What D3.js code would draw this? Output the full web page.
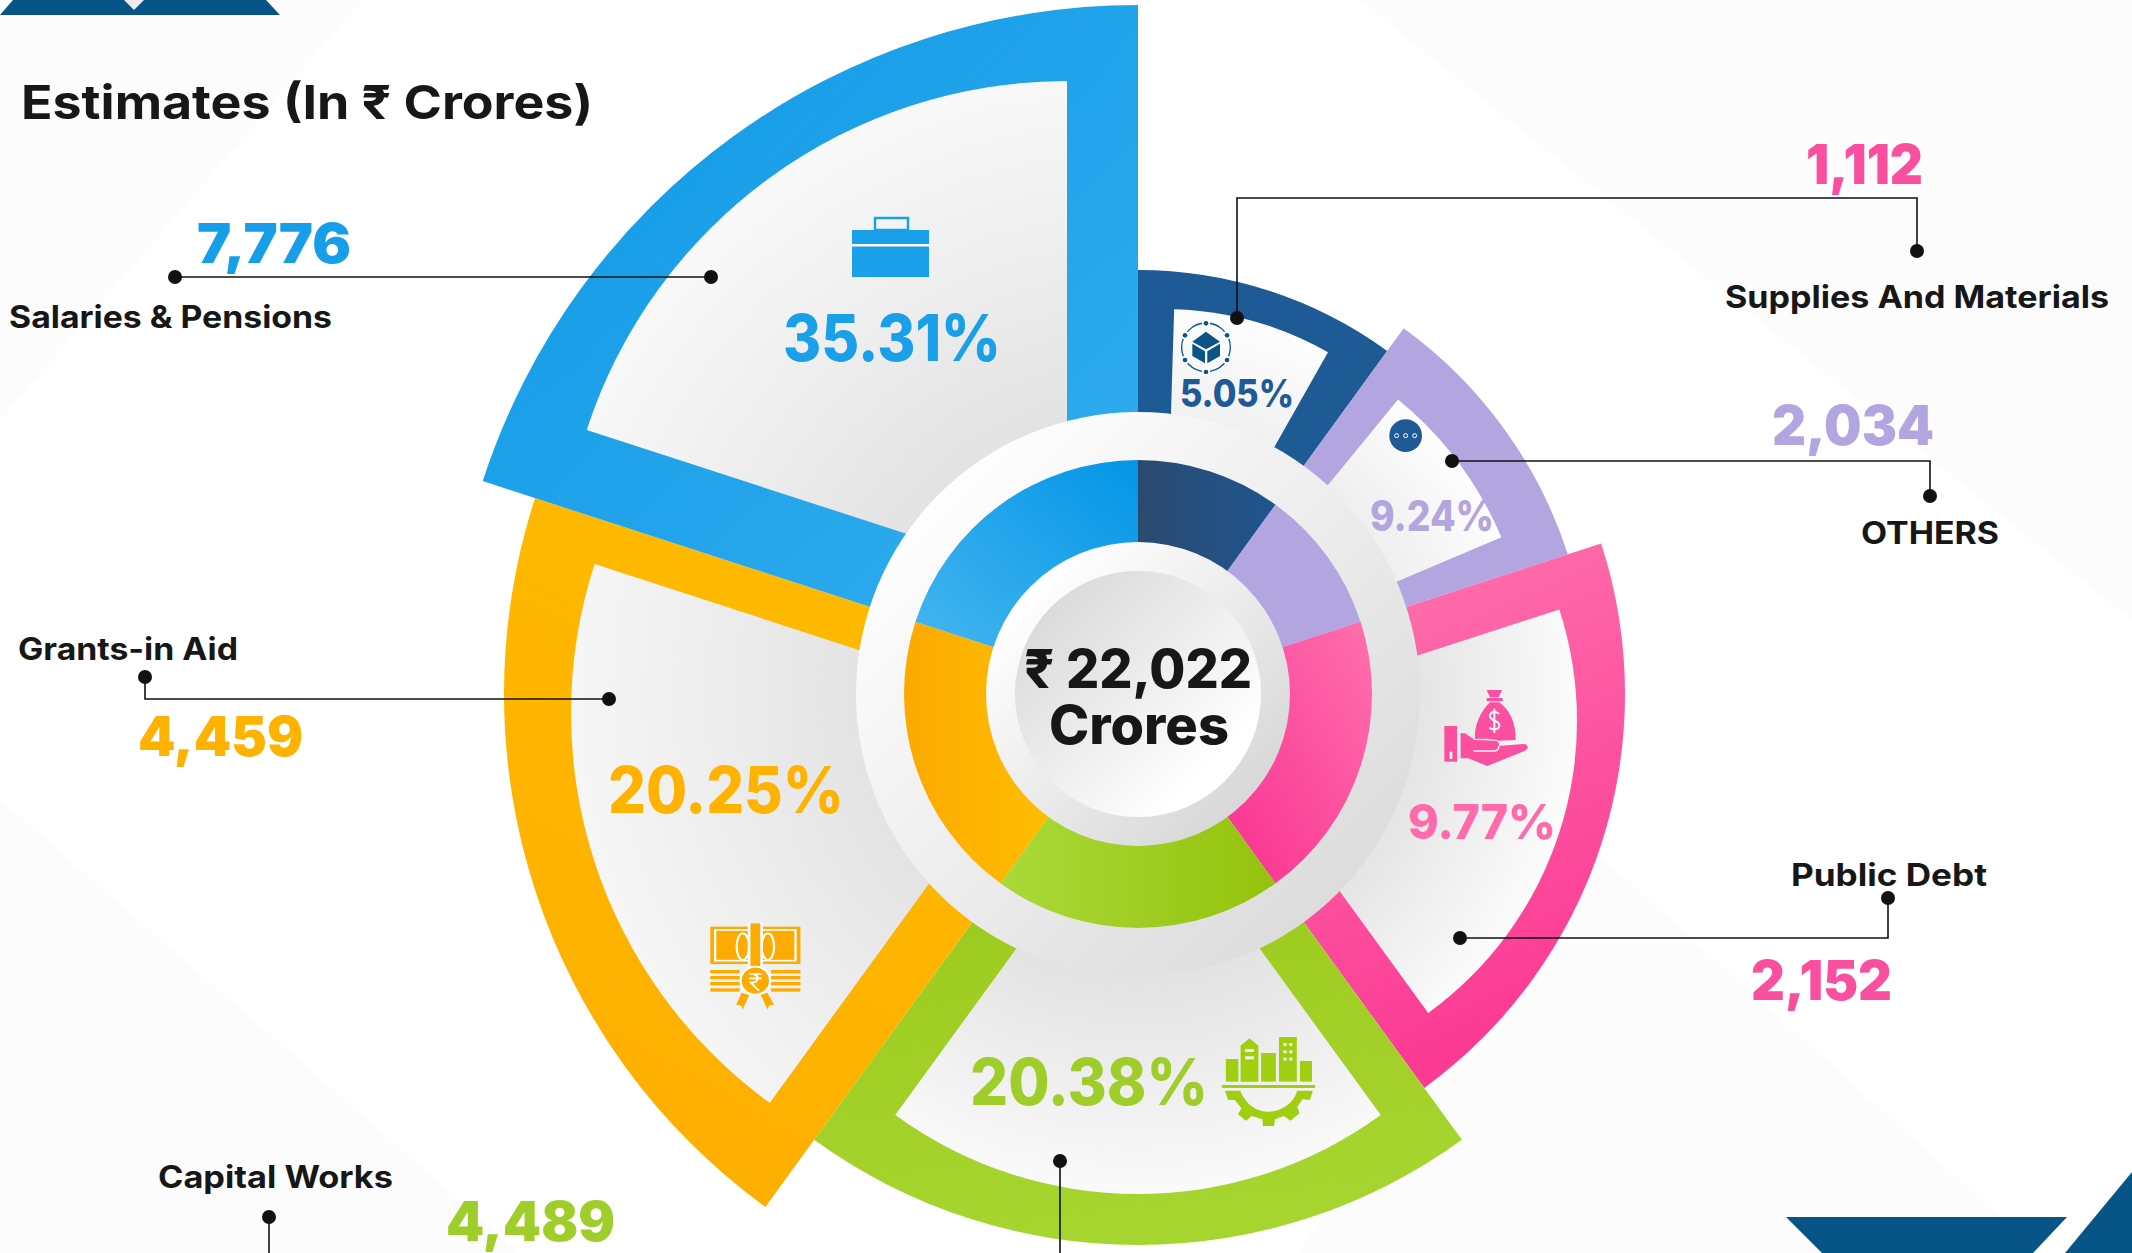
<!DOCTYPE html>
<html>
<head>
<meta charset="utf-8">
<title>Estimates (In ₹ Crores)</title>
<script src="https://cdn.jsdelivr.net/npm/d3@7"></script>
<style>
  html, body { margin: 0; padding: 0; background: #fff; }
  svg { display: block; }
  text { font-family: Inter, "Noto Sans", "DejaVu Sans", sans-serif; }
</style>
</head>
<body>
<div id="main"></div>
<script>
// clockwise from twelve o'clock
const categories = ["Supplies And Materials", "OTHERS", "Public Debt", "Capital Works", "Grants-in Aid", "Salaries & Pensions"];
const amounts = [1112, 2034, 2152, 4489, 4459, 7776];
const percents = [5.05, 9.24, 9.77, 20.38, 20.25, 35.31];
// the sectors are drawn as fifths / tenths of the circle, not to value
const sectorWeights = [1, 1, 2, 2, 2, 2];

const width = 2132;
const height = 1253;
const cx = 1138;
const cy = 694;
const rad = Math.PI / 180;

const outerRadius = d3.scaleOrdinal().domain(categories).range([424, 452, 487, 551, 634, 689]);
const fadeRadius = d3.scaleOrdinal().domain(categories).range([396, 400, 437, 500, 567, 616]);
const fadeBase = d3.scaleOrdinal().domain(categories).range(["#f1f1f1", "#efefef", "#e6e5e5", "#e4e3e3", "#e5e4e4", "#e4e3e3"]);
const fadeEnd = d3.scaleOrdinal().domain(categories).range(["#fefefe", "#fefefe", "#fbfbfb", "#fafafa", "#f6f6f6", "#f8f8f8"]);
const valueColor = d3.scaleOrdinal().domain(categories).range(["#f94f9e", "#b3a5e0", "#f94f9e", "#9fcd2a", "#ffb300", "#169ee9"]);
const percentColor = d3.scaleOrdinal().domain(categories).range(["#1f5a96", "#b3a5e0", "#ff6aab", "#9fcd2a", "#ffb300", "#1a9fe9"]);

// [x1, y1, x2, y2, from, to] in bounding box units
const bandFill = [
  [0, 0, 1, 1, "#1d5a96", "#1f5a94"],
  [0, 0, 1, 1, "#b3a5e0", "#b3a5e0"],
  [0, 0, 0.3, 1, "#ff78b0", "#fb3a94"],
  [0, 0, 0.2, 1, "#9cc81a", "#a6d530"],
  [0.7, 0, 0.3, 1, "#ffbc00", "#fdae00"],
  [0, 0, 1, 1, "#0e98e6", "#33aeee"]
];
const ringFill = [
  [0, 0, 1, 0, "#2b4a6e", "#1f5590"],
  [0, 0, 1, 0, "#b3a5e0", "#b3a5e0"],
  [0, 1, 1, 0, "#f93090", "#ff70ad"],
  [0, 0, 1, 0, "#abd93a", "#94c20c"],
  [0, 0, 1, 0, "#fca900", "#ffbe00"],
  [1, 0, 0, 1, "#0395e7", "#45b6ef"]
];
// the white panel inside each band sits on its own apex
const panels = [
  { x: 1164, y: 642, r: 333, a0: 1.75, a1: 29.5 },
  { x: 1170, y: 678, r: 360, a0: 39.3, a1: 67 },
  { x: 1216, y: 721, r: 361, a0: 72, a1: 144 },
  { x: 1138, y: 781, r: 413, a0: 144, a1: 216 },
  { x: 1053, y: 713, r: 482, a0: 216, a1: 288 },
  { x: 1067, y: 586, r: 505, a0: 288, a1: 360 }
];
// text anchors, left edge / right edge / baseline
const amountPos = [[1806, 1923, 184], [1772, 1934, 445], [1751, 1892, 1000], [446, 615, 1241], [138, 303, 756], [197, 351, 263]];
const namePos = [[1725, 2109, 308], [1861, 1999, 544], [1791, 1987, 886], [158, 393, 1188], [18, 238, 660], [9, 332, 328]];
const percentPos = [[1180, 1294, 407, 38], [1370, 1494, 531, 42], [1408, 1556, 839, 48], [970, 1208, 1105, 64], [608, 844, 813, 64], [783, 1001, 361, 64]];
const leaders = [
  [[1237, 318], [1237, 198], [1917, 198], [1917, 251]],
  [[1452, 461], [1930, 461], [1930, 496]],
  [[1460, 938], [1888, 938], [1888, 898]],
  // runs off the bottom of the page on its way to the label
  [[1060, 1161], [1060, 1290], [269, 1290], [269, 1217]],
  [[609, 699], [145, 699], [145, 677]],
  [[711, 277], [175, 277]]
];

const svg = d3.select("#main")
              .append("svg")
              .attr("width", width)
              .attr("height", height);
const defs = svg.append("defs");

const addLinear = (id, spec) => {
  const g = defs.append("linearGradient")
                .attr("id", id)
                .attr("x1", spec[0]).attr("y1", spec[1])
                .attr("x2", spec[2]).attr("y2", spec[3]);
  g.append("stop").attr("offset", 0).attr("stop-color", spec[4]);
  g.append("stop").attr("offset", 1).attr("stop-color", spec[5]);
};

// faint backdrop facets
const facets = [
  [[0, 0], [362, 0], [0, 420]],
  [[0, 800], [520, 1253], [0, 1253]],
  [[1560, 820], [2040, 1253], [1300, 1253]],
  [[1360, 0], [2132, 0], [2132, 620]]
];
svg.selectAll(".facet")
   .data(facets)
   .enter()
   .append("path")
   .attr("class", "facet")
   .attr("d", d3.line())
   .attr("fill", "#fcfcfc");

// corner decoration
const cornerColor = "#075487";
[
  [[13, 0], [266, 0], [280, 15], [0, 15]],
  [[1786, 1217], [2067, 1217], [2033, 1253], [1822, 1253]],
  [[2065, 1253], [2132, 1172], [2132, 1253]]
].forEach(p => svg.append("path").attr("d", d3.line()(p) + "Z").attr("fill", cornerColor));
svg.append("path").attr("d", d3.line()([[124, 0], [144, 0], [134, 10]]) + "Z").attr("fill", "#ececec");

// sectors
const sectors = d3.pie().sort(null).value((d, i) => sectorWeights[i])(categories);
const arc = d3.arc();
const chart = svg.append("g").attr("transform", `translate(${cx},${cy})`);

categories.forEach((c, i) => {
  addLinear("band" + i, bandFill[i]);
  addLinear("ring" + i, ringFill[i]);
  const fade = defs.append("radialGradient")
                   .attr("id", "fade" + i)
                   .attr("gradientUnits", "userSpaceOnUse")
                   .attr("cx", cx - panels[i].x).attr("cy", cy - panels[i].y)
                   .attr("r", fadeRadius(c));
  fade.append("stop").attr("offset", 282 / fadeRadius(c)).attr("stop-color", fadeBase(c));
  fade.append("stop").attr("offset", 1).attr("stop-color", fadeEnd(c));
});

chart.selectAll(".band")
     .data(sectors)
     .enter()
     .append("path")
     .attr("class", "band")
     .attr("d", d => arc({ innerRadius: 200, outerRadius: outerRadius(d.data), startAngle: d.startAngle, endAngle: d.endAngle }))
     .attr("fill", (d, i) => `url(#band${i})`);

svg.selectAll(".panel")
   .data(panels)
   .enter()
   .append("path")
   .attr("class", "panel")
   .attr("transform", d => `translate(${d.x},${d.y})`)
   .attr("d", d => arc({ innerRadius: 0, outerRadius: d.r, startAngle: d.a0 * rad, endAngle: d.a1 * rad }))
   .attr("fill", (d, i) => `url(#fade${i})`);

// centre hub goes over the panels
addLinear("hubOuter", [0.12, 0.12, 0.88, 0.88, "#ffffff", "#dcdbdb"]);
addLinear("hubMiddle", [0.15, 0.15, 0.85, 0.85, "#ffffff", "#d9d8d8"]);
addLinear("hubDisc", [0.15, 0.15, 0.8, 0.8, "#dcdbdb", "#ffffff"]);

const hub = svg.append("g").attr("transform", `translate(${cx},${cy})`);
hub.append("circle").attr("r", 282).attr("fill", "url(#hubOuter)");
hub.selectAll(".ring")
   .data(sectors)
   .enter()
   .append("path")
   .attr("class", "ring")
   .attr("d", d => arc({ innerRadius: 150, outerRadius: 234, startAngle: d.startAngle, endAngle: d.endAngle }))
   .attr("fill", (d, i) => `url(#ring${i})`);
hub.append("circle").attr("r", 152).attr("fill", "url(#hubMiddle)");
hub.append("circle").attr("r", 123).attr("fill", "url(#hubDisc)");

// fitted text helper
const fitText = (str, x0, x1, y, size, weight, fill) => svg.append("text")
  .attr("x", x0)
  .attr("y", y)
  .attr("textLength", x1 - x0)
  .attr("lengthAdjust", "spacingAndGlyphs")
  .attr("font-size", size)
  .attr("font-weight", weight)
  .attr("fill", fill)
  .text(str);

fitText("Estimates (In ₹ Crores)", 21, 593, 119, 47, 700, "#161716");

const totalLabel = svg.append("text")
  .attr("font-size", 53)
  .attr("font-weight", 800)
  .attr("fill", "#161716");
totalLabel.append("tspan")
  .attr("x", 1024).attr("y", 688)
  .attr("textLength", 228).attr("lengthAdjust", "spacingAndGlyphs")
  .text("₹ " + d3.format(",")(d3.sum(amounts)));
totalLabel.append("tspan")
  .attr("x", 1049).attr("y", 744)
  .attr("textLength", 180).attr("lengthAdjust", "spacingAndGlyphs")
  .text("Crores");

categories.forEach((c, i) => {
  const a = amountPos[i];
  const n = namePos[i];
  const p = percentPos[i];
  fitText(d3.format(",")(amounts[i]), a[0], a[1], a[2], 55, 900, valueColor(c));
  fitText(c, n[0], n[1], n[2], 31, 700, "#161716");
  fitText(d3.format(".2f")(percents[i]) + "%", p[0], p[1], p[2], p[3], 800, percentColor(c));
});

// leader lines
const leaderLine = d3.line();
leaders.forEach(pts => {
  svg.append("path")
     .attr("d", leaderLine(pts))
     .attr("fill", "none")
     .attr("stroke", "#111")
     .attr("stroke-width", 1.6);
  [pts[0], pts[pts.length - 1]].forEach(pt => {
    svg.append("circle").attr("cx", pt[0]).attr("cy", pt[1]).attr("r", 7).attr("fill", "#111");
  });
});

// icons, drawn in the pixel grid of the crop they were measured on
const rect = (g, x, y, w, h, fill, rx) => g.append("rect").attr("x", x).attr("y", y).attr("width", w).attr("height", h).attr("fill", fill).attr("rx", rx || 0);
const path = (g, d, fill) => g.append("path").attr("d", d).attr("fill", fill);

// briefcase
const brief = svg.append("g");
rect(brief, 852, 230, 77, 47, "#1a9fe9");
rect(brief, 852, 244, 77, 2.5, "#fff");
brief.append("rect").attr("x", 875).attr("y", 218).attr("width", 33).attr("height", 12)
     .attr("fill", "none").attr("stroke", "#1a9fe9").attr("stroke-width", 2.5);

// box in a dotted ring
const boxIcon = svg.append("g").attr("transform", "translate(1100,230) scale(0.3333)");
const boxColor = "#0a5488";
boxIcon.append("circle").attr("cx", 318).attr("cy", 352).attr("r", 73)
       .attr("fill", "none").attr("stroke", boxColor).attr("stroke-width", 4);
[[318, 280], [381, 316], [381, 390], [318, 426], [255, 390], [255, 316]].forEach(p => {
  boxIcon.append("circle").attr("cx", p[0]).attr("cy", p[1]).attr("r", 12).attr("fill", "#fff");
  boxIcon.append("circle").attr("cx", p[0]).attr("cy", p[1]).attr("r", 7).attr("fill", boxColor);
});
path(boxIcon, "M277,335L318,305L360,335L318,358Z", boxColor);
path(boxIcon, "M277,341L315,364V400L277,378Z", boxColor);
path(boxIcon, "M322,364L360,341V378L322,400Z", boxColor);

// three dots
const dots = svg.append("g").attr("transform", "translate(1100,230) scale(0.3333)");
dots.append("circle").attr("cx", 917).attr("cy", 617).attr("r", 49).attr("fill", "#1f5a96");
[890, 917, 944].forEach(x => dots.append("circle").attr("cx", x).attr("cy", 617).attr("r", 6)
  .attr("fill", "none").attr("stroke", "#fff").attr("stroke-width", 3));

// money bag on a hand
const pink = "#fb4f9f";
const bag = svg.append("g").attr("transform", "translate(1350,640) scale(0.3333)");
path(bag, "M410,150H456L446,172H420Z", pink);
rect(bag, 409, 174, 50, 10, pink, 5);
path(bag, "M420,187H448C480,210 498,250 497,300L445,302C430,296 400,296 375,297C372,260 390,215 420,187Z", pink);
bag.append("path").attr("d", "M447,222C440,212 420,214 420,228C420,244 448,240 448,256C448,270 426,272 418,262M433,206V278")
   .attr("fill", "none").attr("stroke", "#fff").attr("stroke-width", 6);
path(bag, "M332,280H345L375,300L435,302C447,304 449,313 446,318L520,312C535,312 538,325 525,332L412,378L355,355H332Z", pink);
bag.append("path").attr("d", "M370,333H432C442,333 448,326 446,318").attr("fill", "none").attr("stroke", "#f5f5f5").attr("stroke-width", 5);
rect(bag, 283, 258, 38, 107, pink);
rect(bag, 299, 335, 8, 22, "#f5f5f5");

// banknotes with a rupee medal
const orange = "#fdab00";
const notes = svg.append("g").attr("transform", "translate(650,880) scale(0.4464,0.3333)");
rect(notes, 135, 140, 202, 112, orange);
notes.append("rect").attr("x", 146).attr("y", 150).attr("width", 180).attr("height", 92)
     .attr("fill", "none").attr("stroke", "#fff").attr("stroke-width", 5);
[[208, 14, 40], [264, 14, 40]].forEach(e => notes.append("ellipse")
  .attr("cx", e[0]).attr("cy", 200).attr("rx", e[1]).attr("ry", e[2])
  .attr("fill", "none").attr("stroke", "#fff").attr("stroke-width", 5));
rect(notes, 219, 130, 34, 128, "#fff");
rect(notes, 225, 130, 22, 128, orange);
[270, 288, 306, 325].forEach(y => {
  rect(notes, 135, y, 66, 10, orange);
  rect(notes, 271, y, 66, 10, orange);
});
notes.append("ellipse").attr("cx", 236).attr("cy", 302).attr("rx", 33).attr("ry", 42)
     .attr("fill", orange).attr("stroke", "#fff").attr("stroke-width", 5);
path(notes, "M205,338L222,345L208,388L203,375H193Z", orange);
path(notes, "M248,345L263,338L278,375H268L263,388Z", orange);
notes.append("path").attr("d", "M222,282H250M222,295H250M228,282C246,282 246,308 226,308L244,332")
     .attr("fill", "none").attr("stroke", "#fff").attr("stroke-width", 5);

// city on a gear
const lime = "#9fcf10";
const city = svg.append("g").attr("transform", "translate(650,880) scale(0.4464,0.3333)");
rect(city, 1290, 537, 28, 68, lime);
path(city, "M1323,605V497L1343,475L1363,497V605Z", lime);
rect(city, 1369, 519, 33, 86, lime);
rect(city, 1409, 471, 40, 134, lime);
rect(city, 1456, 543, 27, 62, lime);
[[1333, 507, 20, 9], [1333, 529, 20, 9], [1419, 489, 7, 9], [1432, 489, 7, 9], [1419, 511, 7, 9], [1432, 511, 7, 9], [1419, 533, 7, 9], [1432, 533, 7, 9]]
  .forEach(w => rect(city, w[0], w[1], w[2], w[3], "#f2f2f2"));
rect(city, 1281, 615, 209, 9, lime);
path(city, "M1288,632H1322C1335,675 1360,695 1385,695C1410,695 1440,675 1450,632H1485L1478,660L1462,658L1450,680L1455,700L1435,722L1420,708L1400,718L1398,738H1373L1372,718L1348,708L1335,722L1317,703L1325,685L1310,660L1295,660Z", lime);
</script>
</body>
</html>
